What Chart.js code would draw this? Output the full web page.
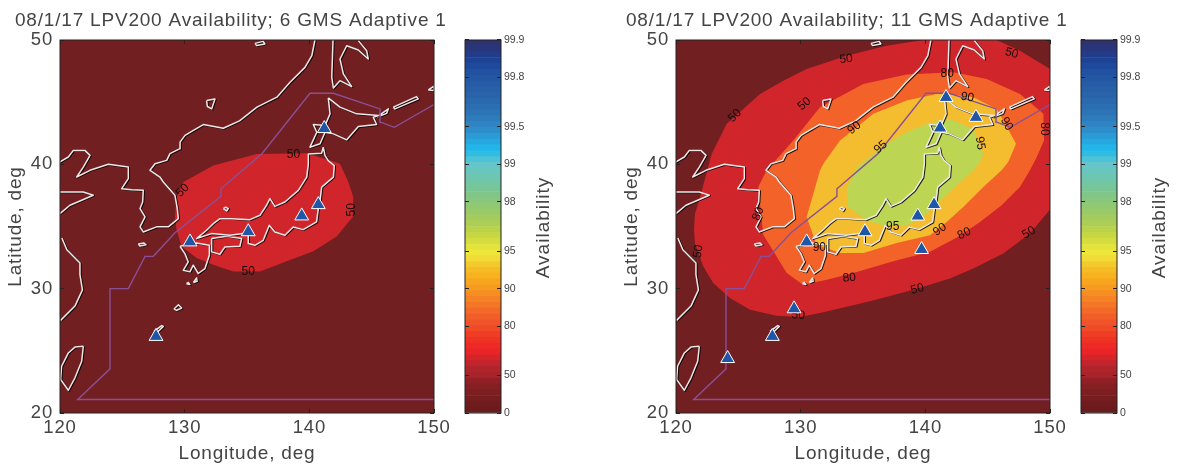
<!DOCTYPE html>
<html>
<head>
<meta charset="utf-8">
<title>LPV200 Availability</title>
<script src="https://cdn.jsdelivr.net/npm/chart.js@4"></script>
<style>
  html, body { margin: 0; padding: 0; background: #fff; }
  body { width: 1181px; height: 465px; position: relative; overflow: hidden; }
  canvas { position: absolute; top: 0; }
</style>
</head>
<body>
<canvas id="mapLeft" width="500" height="465" style="left:0"></canvas>
<canvas id="mapRight" width="500" height="465" style="left:616px"></canvas>
<canvas id="barLeft" width="117" height="465" style="left:448px"></canvas>
<canvas id="barRight" width="117" height="465" style="left:1064px"></canvas>
<script>
// all map data is [longitude, latitude]
const asiaCoast = [[140.45,50],[140.2,48.74],[139.65,47.8],[138.45,46.6],[137.4,45.4],[135.8,44.6],[134.4,43.5],[133.1,42.9],[131.5,43.2],[130.7,42.73],[130.03,42.33],[129.63,41.79],[129.63,41.26],[128.82,40.86],[128.56,40.32],[127.62,40.05],[127.22,39.52],[128.02,38.98],[128.29,38.58],[129.22,37.51],[129.41,36.44],[129.49,35.63],[128.69,34.97],[127.75,34.97],[126.68,34.56],[126.42,34.97],[126.82,35.77],[126.42,36.44],[126.63,36.97],[126.68,37.91],[125.75,37.96],[124.95,38.04],[125.48,38.85],[125.48,39.78],[123.88,40],[122.41,39.52],[121.34,38.98],[121.87,39.78],[122.41,40.72],[122,41.12],[121.07,41.12],[120.67,40.59],[120,40.19]];
const shandongCoast = [[120,36.04],[120.8,36.71],[121.6,37.05],[122.67,37.51],[121.87,37.78],[120,37.78]];
const chinaCoast = [[120.15,34.07],[120.55,33.13],[121.6,32.06],[121.6,31.12],[121.8,29.9],[121.2,28.6],[120.05,27.45]];
const sakhalinCoast = [[141.9,50],[141.8,47],[141.93,46.14],[142.46,46.73],[143.4,46.25],[142.73,47.27],[142.46,48.47],[143,49.54],[143.93,49.2],[144.73,48.47],[144.6,49.14],[143.93,49.95]];
const taiwanCoast = [[121.87,25.37],[121.2,25.3],[120.67,24.83],[120.13,23.76],[120.05,22.7],[120.67,21.83],[121.2,22.83],[121.74,24.16],[121.87,25.37]];
const hokkaidoCoast = [[141.52,45.34],[141.66,44.06],[141.26,43.12],[140.32,43.2],[140.6,42.58],[140.05,41.38],[140.86,41.65],[141.26,42.58],[141.93,42.45],[143,41.97],[143.93,43.04],[145.4,43.2],[145.13,43.79],[145.53,43.92],[143.8,44.06],[142.46,44.6],[141.52,45.34]];
const honshuCoast = [[141.12,41.38],[140.99,40.9],[139.92,40.84],[139.92,40.04],[139.79,38.97],[139.12,37.91],[138.04,36.97],[137.24,36.62],[136.84,37.24],[136.57,36.71],[136.04,35.9],[135.24,35.55],[133.77,35.63],[132.83,35.63],[132.3,35.23],[131.76,34.7],[130.96,34.03],[132.16,34.43],[133.63,34.3],[134.7,34.43],[135.1,34.43],[135.1,33.63],[135.64,33.49],[136.3,33.89],[136.79,35.1],[137.24,34.56],[138.04,34.3],[138.71,34.96],[139.51,34.75],[140.58,35.37],[140.72,36.44],[140.86,37.1],[140.99,38.17],[141.93,38.97],[142,39.9],[141.52,40.3],[141.26,40.7],[141.12,41.38]];
const shikokuCoast = [[132.16,34.03],[133.37,34.22],[134.57,34.03],[134.43,33.41],[133.23,33.36],[132.83,32.77],[132.16,32.96],[132.16,34.03]];
const kyushuCoast = [[129.62,33.41],[130.96,33.68],[131.98,33.49],[131.98,32.69],[131.63,31.62],[131.09,31.22],[130.69,31.89],[130.42,31.35],[129.89,31.48],[130.29,32.15],[130.02,32.82],[129.62,33.41]];
const smallIslands = [
  [[130.15,30.4],[130.3,30.5],[130.42,30.33],[130.15,30.4]],
  [[130.7,30.5],[130.96,30.86],[131,30.59],[130.7,30.5]],
  [[129.14,28.37],[129.5,28.71],[129.76,28.44],[129.36,28.26],[129.14,28.37]],
  [[127.54,26.57],[128.16,27.03],[128.29,26.97],[127.75,26.44],[127.54,26.57]],
  [[126.28,33.59],[126.74,33.67],[126.9,33.53],[126.42,33.43],[126.28,33.59]],
  [[133.1,36.44],[133.3,36.55],[133.5,36.44],[133.37,36.25],[133.1,36.44]],
  [[145.4,43.79],[146.34,44.46],[146.2,44.1],[145.4,43.79]],
  [[146.74,44.6],[148.6,45.45],[148.74,45.26],[146.87,44.46],[146.74,44.6]],
  [[149.55,45.98],[150,46.3],[150,45.93],[149.55,45.98]],
  [[135.64,49.73],[136.3,49.89],[136.44,49.68],[135.78,49.55],[135.64,49.73]],
  [[131.76,45.13],[132.43,45.26],[132.17,44.46],[131.82,44.65],[131.76,45.13]]
];
const coverageBoundary = [[150,44.81],[146.82,42.98],[145.72,43.39],[145.67,44.46],[141.93,45.72],[140.05,45.72],[136.18,40.84],[132.91,38.03],[132.91,37.42],[129.22,34.5],[127.49,32.6],[126.82,32.6],[125.48,30],[124.01,30],[124.01,23.55],[121.42,21.08],[150,21.08]];

const wholeMap = [[120,20],[150,20],[150,50],[120,50],[120,20]];
const leftContour50 = [[135.78,40.84],[139.79,40.9],[142.46,40.04],[143.13,38.57],[143.53,37.36],[143.48,35.76],[142.19,34.2],[140.32,33],[138.18,32.2],[136.04,31.39],[133.9,31.39],[132.3,31.93],[130.96,32.46],[129.76,33.4],[129.36,34.7],[129.22,35.76],[129.36,37.36],[129.9,38.57],[132.3,39.91],[135.78,40.84]];
const rightContour50 = [[124.06,43.25],[126.74,45.66],[128.61,46.73],[130.48,47.67],[133.69,48.74],[136.9,49.54],[139.84,50],[145.72,50],[147.59,49.14],[150,47.67],[150,36.36],[148.39,34.43],[146.25,32.83],[143.85,31.62],[141.97,30.82],[139.04,29.92],[135.56,28.98],[131.55,28.05],[129.95,27.72],[128.07,27.83],[125.94,28.31],[124.33,29.25],[122.99,30.46],[122.19,31.79],[121.52,33.67],[121.44,34.74],[121.52,36.02],[121.93,37.36],[122.86,40.84],[124.06,43.25]];
const rightContour80 = [[131.55,44.59],[135.03,46.47],[138.5,47.22],[142.25,47.4],[144.92,46.87],[147.59,45.66],[149.47,44.06],[149.52,41.91],[148.9,40.5],[148.39,39.52],[147.59,38.18],[146.12,36.71],[144.38,35.37],[142.64,34.17],[140.37,32.96],[137.43,32.2],[134.22,31.26],[132.09,30.72],[130.2,30.32],[128.88,31.26],[127,34.34],[126.6,38.17],[127.27,39.5],[129.41,41.91],[131.55,44.59]];
const rightContour90 = [[131.82,40.04],[133.16,41.91],[135.83,44.06],[138.5,45.13],[141.18,45.72],[143.85,45.39],[145.72,44.46],[146.26,43.52],[147.27,41.65],[146.66,40.2],[146.12,39.52],[144.65,38.18],[143.04,36.57],[141.71,35.37],[140.37,34.3],[137.7,33.67],[135.03,32.86],[133.16,32.86],[131.28,33.53],[130.48,35.76],[131.55,39.5],[131.82,40.04]];
const rightContour95 = [[140.11,43.25],[141.98,43.65],[143.85,42.85],[144.65,40.84],[144.4,40.2],[143.85,39.52],[142.24,38.05],[140.96,36.84],[139.84,35.76],[138.5,35.09],[136.63,35.09],[135.29,35.49],[133.82,36.56],[133.69,38.03],[134.49,39.77],[136.9,41.65],[138.5,42.58],[140.11,43.25]];

const leftStations = [[141.2,42.88],[140.72,36.76],[139.39,35.85],[135.1,34.58],[130.43,33.76],[127.7,26.16]];
const rightStations = [[141.66,45.38],[144.06,43.78],[141.18,42.92],[140.7,36.76],[139.39,35.84],[139.7,33.15],[135.16,34.58],[130.48,33.76],[129.47,28.38],[127.73,26.16],[124.14,24.38]];

// [lon, lat, text, rotation in degrees]
const leftContourLabels = [[138.72,40.79,"50",0],[129.84,37.9,"50",-45],[143.4,36.35,"50",-90],[135.1,31.35,"50",0]];
const rightContourLabels = [[133.64,48.47,"50",-5],[146.93,48.93,"50",15],[124.73,43.92,"50",-45],[130.3,44.86,"50",-40],[141.76,47.32,"80",0],[143.37,45.39,"90",10],[134.3,42.93,"90",-40],[136.42,41.38,"95",-40],[144.39,41.7,"95",80],[146.52,43.25,"90",60],[149.55,42.85,"80",90],[126.6,36.02,"80",-70],[137.38,35,"95",0],[141.17,34.75,"90",-35],[143.12,34.43,"80",-25],[148.31,34.5,"50",-30],[121.79,33,"50",-80],[133.9,30.86,"80",-5],[139.36,29.97,"50",-15],[129.81,27.86,"50",5],[131.5,33.27,"90",0]];

const colorbarTickLabels = ["0","50","80","90","95","98","99","99.5","99.8","99.9"];
const colorbarTickAvailability = [0,50,80,90,95,98,99,99.5,99.8,99.9];
// one colour per band, from the bottom of the bar to the top
const colorbarBands = ["#6b1b1c","#701c1e","#761d1f","#7d1e21","#861f23","#902026","#a8242a","#b0252b","#c1252b","#d5242a","#ea2427","#ee2a26","#ee3325","#ef3d26","#f04a27","#f15428","#f25e28","#f36a28","#f47627","#f58225","#f68e23","#f79a20","#f8a61e","#f8b11f","#f6bc26","#f4c92e","#f1db35","#efe63a","#e3e33e","#d4dd40","#c5d742","#b8d24a","#acce56","#a3cc5e","#9aca68","#91c972","#88c77d","#80c688","#78c695","#72c6a3","#6dc6b1","#69c6bf","#64c5cb","#4cc3d6","#2fbde4","#22b5e9","#25a8df","#2a9bd4","#2e8ecb","#2f84c3","#2e7cbc","#2c74b6","#2b6eb1","#2a69ad","#2964aa","#2860a8","#265ba5","#2457a3","#2151a0","#1e4a9c","#1d4397","#233c89","#29367c","#2d3270"];

const FONT = '"Liberation Sans", sans-serif';
const TEXT_COLOR = "#444";
const FILL_0 = "#721f21", FILL_50 = "#d0262b", FILL_80 = "#f36329", FILL_90 = "#f4bd30", FILL_95 = "#bcd654";

const fillArea = (data, color) => ({ data, showLine: true, fill: "shape", backgroundColor: color, borderWidth: 0, pointRadius: 0 });
const coastLine = (data) => ({ data, showLine: true, isCoast: true, fill: false, borderColor: "#efe8e8", borderWidth: 1.5, pointRadius: 0, borderJoinStyle: "round" });
const allCoasts = [asiaCoast, shandongCoast, chinaCoast, sakhalinCoast, taiwanCoast, hokkaidoCoast, honshuCoast, shikokuCoast, kyushuCoast, ...smallIslands];

const framePlugin = {
  id: "frame",
  afterDatasetsDraw(chart) {
    const { ctx, chartArea: a } = chart;
    ctx.save();
    ctx.strokeStyle = "#222";
    ctx.lineWidth = 1;
    ctx.strokeRect(a.left, a.top, a.right - a.left, a.bottom - a.top);
    ctx.restore();
  }
};

// the reference text is spaced wider than any installed font
const spacingPlugin = {
  id: "spacing",
  beforeDraw(chart) { chart.ctx.letterSpacing = "0.8px"; }
};

// white coastline with the dark edge it has in the picture
const coastShadowPlugin = {
  id: "coastShadow",
  beforeDatasetDraw(chart, args) {
    if (chart.data.datasets[args.index].isCoast) {
      chart.ctx.save();
      chart.ctx.shadowColor = "rgba(0,0,0,0.85)";
      chart.ctx.shadowOffsetX = 1;
      chart.ctx.shadowOffsetY = 0.6;
    }
  },
  afterDatasetDraw(chart, args) {
    if (chart.data.datasets[args.index].isCoast) chart.ctx.restore();
  }
};

function contourLabelPlugin(labels) {
  return {
    id: "contourLabels",
    afterDatasetDraw(chart, args) {
      // labels go right under the stations, which are the first dataset
      if (args.index !== 1) return;
      const { ctx, scales } = chart;
      labels.forEach(([lon, lat, text, angle]) => {
        ctx.save();
        ctx.translate(scales.x.getPixelForValue(lon), scales.y.getPixelForValue(lat));
        ctx.rotate(angle * Math.PI / 180);
        ctx.letterSpacing = "0px";
        ctx.font = "12px " + FONT;
        ctx.fillStyle = "#1a0a0a";
        ctx.textAlign = "center";
        ctx.textBaseline = "middle";
        ctx.fillText(text, 0, 0);
        ctx.restore();
      });
    }
  };
}

function makeMap(id, titleText, leftPad, areas, stations, labels) {
  const inwardGrid = { drawOnChartArea: false, tickLength: -4, color: "#222", z: 1 };
  const datasets = [
    { data: stations, pointStyle: "triangle", pointRadius: 8, pointBackgroundColor: "#2056a8", pointBorderColor: "#fff", pointBorderWidth: 1 },
    { data: coverageBoundary, showLine: true, fill: false, borderColor: "#8a4f96", borderWidth: 1.4, pointRadius: 0 },
    ...allCoasts.map(coastLine),
    ...areas
  ];
  return new Chart(document.getElementById(id), {
    type: "scatter",
    data: { datasets },
    plugins: [spacingPlugin, framePlugin, coastShadowPlugin, contourLabelPlugin(labels)],
    options: {
      responsive: false,
      animation: false,
      layout: { padding: { left: leftPad, right: 0, top: 0, bottom: 0 } },
      plugins: {
        legend: { display: false },
        tooltip: { enabled: false },
        title: { display: true, text: titleText, align: "start", color: TEXT_COLOR, font: { family: FONT, size: 19, weight: "normal", lineHeight: 1.2 }, padding: { top: 9, bottom: 8.2 } }
      },
      scales: {
        x: {
          type: "linear", min: 120, max: 150, position: "bottom",
          afterFit: (s) => { s.height = 52; },
          border: { display: false },
          grid: inwardGrid,
          ticks: { stepSize: 10, padding: 8, autoSkip: false, maxRotation: 0, color: TEXT_COLOR, font: { family: FONT, size: 18.5 } },
          title: { display: true, text: "Longitude, deg", color: TEXT_COLOR, font: { family: FONT, size: 19 }, padding: { top: 0, bottom: 0 } }
        },
        x2: {
          type: "linear", min: 120, max: 150, position: "top",
          afterFit: (s) => { s.height = 0; },
          border: { display: false },
          grid: inwardGrid,
          ticks: { stepSize: 10, display: false }
        },
        y: {
          type: "linear", min: 20, max: 50, position: "left",
          afterFit: (s) => { s.width = 60 - leftPad; },
          border: { display: false },
          grid: inwardGrid,
          ticks: { stepSize: 10, padding: 11, autoSkip: false, color: TEXT_COLOR, font: { family: FONT, size: 18.5 } },
          title: { display: true, text: "Latitude, deg", color: TEXT_COLOR, font: { family: FONT, size: 19 }, padding: { top: 5 - leftPad - 0.8, bottom: 0 } }
        },
        y2: {
          type: "linear", min: 20, max: 50, position: "right",
          afterFit: (s) => { s.width = 66; },
          border: { display: false },
          grid: inwardGrid,
          ticks: { stepSize: 10, display: false }
        }
      }
    }
  });
}

function makeColorbar(id) {
  const tickValues = colorbarTickAvailability.map((a) => -Math.log10(1 - a / 100));
  const setTicks = (s) => { s.ticks = tickValues.map((value) => ({ value })); };
  const barGrid = { drawOnChartArea: false, tickLength: -4, color: "#222", z: 1 };
  return new Chart(document.getElementById(id), {
    type: "bar",
    data: {
      labels: [""],
      datasets: colorbarBands.map((color) => ({ data: [3 / colorbarBands.length], backgroundColor: color, borderWidth: 0, barPercentage: 1, categoryPercentage: 1 }))
    },
    plugins: [framePlugin, {
      id: "barTitle",
      afterDraw(chart) {
        const { ctx, chartArea: a } = chart;
        ctx.save();
        ctx.translate(a.right + 43, (a.top + a.bottom) / 2 + 1);
        ctx.rotate(-Math.PI / 2);
        ctx.letterSpacing = "1px";
        ctx.font = "19px " + FONT;
        ctx.fillStyle = TEXT_COLOR;
        ctx.textAlign = "center";
        ctx.textBaseline = "middle";
        ctx.fillText("Availability", 0, 0);
        ctx.restore();
      }
    }],
    options: {
      responsive: false,
      animation: false,
      layout: { padding: { top: 40, bottom: 52 } },
      plugins: { legend: { display: false }, tooltip: { enabled: false } },
      scales: {
        x: { stacked: true, display: false },
        y: {
          stacked: true, min: 0, max: 3, position: "right",
          afterBuildTicks: setTicks,
          afterFit: (s) => { s.width = 64; },
          border: { display: false },
          grid: barGrid,
          ticks: { padding: 7, autoSkip: false, color: TEXT_COLOR, font: { family: FONT, size: 10.5 }, callback: (v, i) => colorbarTickLabels[i] }
        },
        yLeft: {
          min: 0, max: 3, position: "left",
          afterBuildTicks: setTicks,
          afterFit: (s) => { s.width = 17; },
          border: { display: false },
          grid: barGrid,
          ticks: { display: false }
        }
      }
    }
  });
}

makeMap("mapLeft", "08/1/17 LPV200 Availability; 6 GMS Adaptive 1", 15,
  [fillArea(leftContour50, FILL_50), fillArea(wholeMap, FILL_0)],
  leftStations, leftContourLabels);
makeMap("mapRight", "08/1/17 LPV200 Availability; 11 GMS Adaptive 1", 10,
  [fillArea(rightContour95, FILL_95), fillArea(rightContour90, FILL_90), fillArea(rightContour80, FILL_80), fillArea(rightContour50, FILL_50), fillArea(wholeMap, FILL_0)],
  rightStations, rightContourLabels);
makeColorbar("barLeft");
makeColorbar("barRight");
</script>
</body>
</html>
